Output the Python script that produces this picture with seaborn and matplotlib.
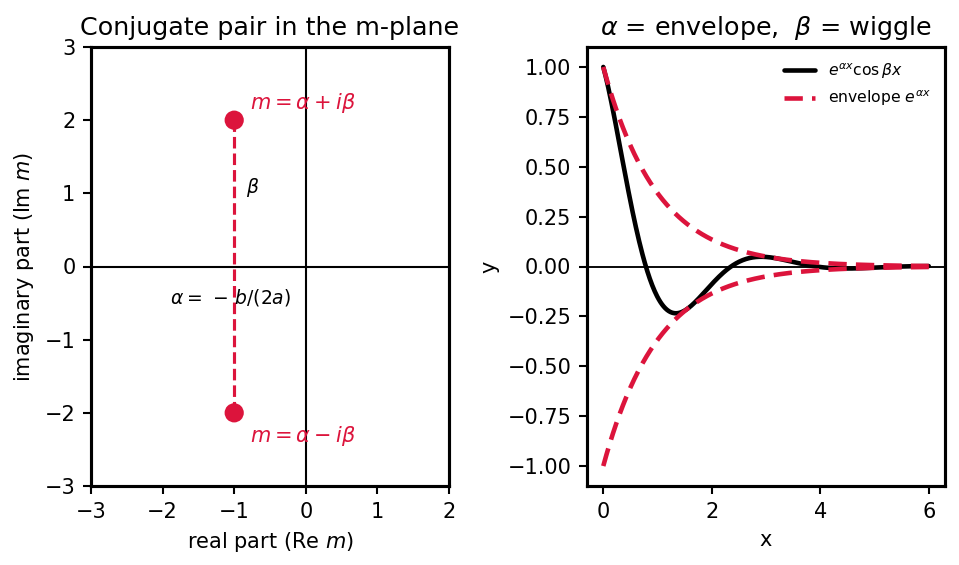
import numpy as np
import pandas as pd
import matplotlib
matplotlib.use("Agg")
import matplotlib.pyplot as plt
import seaborn as sns

# ---- data ----
ALPHA = -1.0          # real part of root
BETA = 2.0            # imaginary part of root
root_re = [ALPHA, ALPHA]
root_im = [BETA, -BETA]
x_range = (0.0, 6.0)
n_pts = 400

sns.set_style("ticks")
plt.rcParams['font.family'] = ['DejaVu Sans']
for k in ["text.color", "axes.labelcolor", "xtick.color", "ytick.color",
          "axes.edgecolor"]:
    plt.rcParams[k] = "black"

crimson = "#DC143C"

fig = plt.figure(figsize=(959/150, 565/150), dpi=150)
ax1 = fig.add_axes([91/959, 79/565, 358/959, 439/565])
ax2 = fig.add_axes([587/959, 79/565, 358/959, 439/565])

# ---- left panel ----
roots = pd.DataFrame({"re": root_re, "im": root_im})
ax1.axhline(0, color="black", lw=1)
ax1.axvline(0, color="black", lw=1)
ax1.plot([ALPHA, ALPHA], [-BETA, BETA], color=crimson, ls="--", lw=1.5)
sns.scatterplot(data=roots, x="re", y="im", ax=ax1, color=crimson, s=85,
                edgecolor="none", zorder=5)
ax1.text(ALPHA + 0.22, BETA + 0.23, r"$m = \alpha + i\beta$", color=crimson,
         fontsize=10, va="center", ha="left")
ax1.text(ALPHA + 0.22, -BETA - 0.32, r"$m = \alpha - i\beta$", color=crimson,
         fontsize=10, va="center", ha="left")
ax1.text(ALPHA + 0.17, 1.08, r"$\beta$", fontsize=9, va="center", ha="left")
ax1.text(ALPHA - 0.9, -0.42, r"$\alpha =\, -\, b/(2a)$", fontsize=9,
         va="center", ha="left")
ax1.set_xlim(-3, 2)
ax1.set_ylim(-3, 3)
ax1.set_xticks([-3, -2, -1, 0, 1, 2])
ax1.set_yticks([-3, -2, -1, 0, 1, 2, 3])
ax1.set_xlabel(r"real part (Re $m$)", fontsize=10)
ax1.set_ylabel(r"imaginary part (Im $m$)", fontsize=10)
ax1.set_title("Conjugate pair in the m-plane", fontsize=12.2)

# ---- right panel ----
x = np.linspace(x_range[0], x_range[1], n_pts)
env = np.exp(ALPHA * x)
df = pd.DataFrame({"x": x, "y": env * np.cos(BETA * x), "up": env, "dn": -env})
ax2.axhline(0, color="black", lw=0.9)
sns.lineplot(data=df, x="x", y="y", ax=ax2, color="black", lw=2.2,
             label=r"$e^{\alpha x}\cos\beta x$")
sns.lineplot(data=df, x="x", y="up", ax=ax2, color=crimson, lw=2.2,
             ls=(0, (4, 2)), label=r"envelope $e^{\alpha x}$")
sns.lineplot(data=df, x="x", y="dn", ax=ax2, color=crimson, lw=2.2,
             ls=(0, (4, 2)))
ax2.set_xticks([0, 2, 4, 6])
ax2.set_yticks([-1.0, -0.75, -0.5, -0.25, 0.0, 0.25, 0.5, 0.75, 1.0])
ax2.set_xlim(-0.3, 6.3)
ax2.set_ylim(-1.1, 1.1)
ax2.set_xlabel("x", fontsize=10)
ax2.set_ylabel("y", fontsize=10)
ax2.set_title(r"$\alpha$ = envelope,  $\beta$ = wiggle", fontsize=12.2)
ax2.legend(loc="upper right", frameon=False, fontsize=7.5, handlelength=2.0)

for ax in (ax1, ax2):
    ax.tick_params(labelsize=10, width=1, length=4, colors="black")
    for s in ax.spines.values():
        s.set_visible(True)
        s.set_linewidth(1.5)
        s.set_color("black")

fig.savefig("out.png", dpi=150)
